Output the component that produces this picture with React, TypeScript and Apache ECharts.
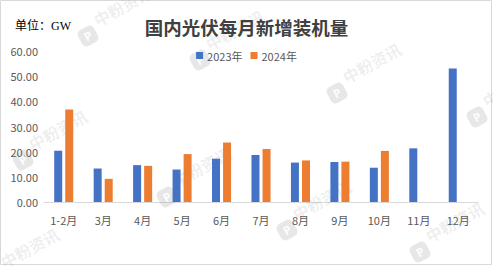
import React, { useEffect, useRef } from "react";
import * as echarts from "echarts";

const categories = ["1-2月", "3月", "4月", "5月", "6月", "7月", "8月", "9月", "10月", "11月", "12月"];
const series2023 = [20.37, 13.3, 14.65, 12.9, 17.21, 18.66, 15.66, 15.89, 13.62, 21.32, 53.0];
const series2024 = [36.72, 9.19, 14.37, 19.04, 23.63, 21.05, 16.52, 16.04, 20.3, null, null];
const seriesNames = ["2023年", "2024年"];
const colors = ["#4472C4", "#ED7D31"];
const watermarkText = "中粉资讯";
const watermarkSpots: [number, number][] = [
  [88, 36],
  [200, 60],
  [23, 160],
  [167, 197],
  [337, 93],
  [477, 117],
  [287, 230],
  [420, 252],
  [-5, 278],
];

const ROT = 0.5;

function renderWatermark(params: any) {
  const [x, y] = watermarkSpots[params.dataIndex];
  return {
    type: "group",
    x,
    y,
    rotation: ROT,
    silent: true,
    children: [
      {
        type: "rect",
        shape: { x: -9, y: -9, width: 18, height: 18, r: 5 },
        style: { fill: "rgba(120,120,120,0.18)" },
      },
      {
        type: "text",
        x: 0,
        y: 0,
        style: {
          text: "P",
          fontSize: 12,
          fontWeight: "bold",
          fontFamily: "'Noto Sans', sans-serif",
          fill: "rgba(255,255,255,0.9)",
          align: "center",
          verticalAlign: "middle",
        },
      },
      {
        type: "text",
        x: 13,
        y: -10,
        style: {
          text: watermarkText,
          fontSize: 16,
          fontWeight: "bold",
          fontFamily: "'Noto Sans CJK SC', sans-serif",
          fill: "rgba(120,120,120,0.13)",
          align: "left",
          verticalAlign: "middle",
        },
      },
    ],
  };
}

export default function App() {
  const ref = useRef<HTMLDivElement>(null);
  useEffect(() => {
    document.body.style.margin = "0";
    const chart = echarts.init(ref.current!, null, { renderer: "svg" });
    const axisFont = "'Noto Sans CJK SC', 'Noto Sans', sans-serif";
    chart.setOption({
      animation: false,
      backgroundColor: "#ffffff",
      title: {
        text: "国内光伏每月新增装机量",
        left: "center",
        top: 15,
        z: 6,
        textStyle: {
          fontFamily: "'Liberation Serif', 'Noto Sans CJK SC', serif",
          fontSize: 18.5,
          fontWeight: "bold",
          color: "#404040",
        },
      },
      graphic: [
        {
          type: "rect",
          shape: { x: 0.5, y: 0.5, width: 491, height: 264 },
          style: { fill: "none", stroke: "#d9d9d9", lineWidth: 1 },
          silent: true,
        },
        {
          type: "text",
          left: 15,
          top: 20,
          z: 20,
          style: {
            text: "单位：GW",
            fontFamily: "'Liberation Serif', 'Noto Sans CJK SC', serif",
            fontSize: 12,
            fill: "#000000",
          },
        },
      ],
      legend: {
        data: seriesNames,
        top: 45,
        left: "center",
        z: 20,
        itemWidth: 7,
        itemHeight: 7,
        itemGap: 8,
        icon: "rect",
        textStyle: { fontFamily: axisFont, fontSize: 11, color: "#595959", padding: [0, 0, 0, -1] },
      },
      grid: { left: 44, right: 15, top: 51, bottom: 64 },
      xAxis: {
        type: "category",
        data: categories,
        axisLine: { lineStyle: { color: "#d9d9d9" } },
        axisTick: { show: false },
        axisLabel: { fontFamily: axisFont, fontSize: 11, color: "#595959", margin: 12, interval: 0 },
      },
      yAxis: {
        type: "value",
        min: 0,
        max: 60,
        interval: 10,
        splitLine: { show: false },
        axisLine: { show: false },
        axisTick: { show: false },
        axisLabel: {
          fontFamily: axisFont,
          fontSize: 11,
          color: "#595959",
          margin: 6,
          formatter: (v: number) => v.toFixed(2),
        },
      },
      series: [
        {
          name: seriesNames[0],
          type: "bar",
          data: series2023,
          barWidth: 8,
          barGap: "38%",
          z: 3,
          itemStyle: { color: colors[0] },
        },
        {
          name: seriesNames[1],
          type: "bar",
          data: series2024,
          barWidth: 8,
          z: 3,
          itemStyle: { color: colors[1] },
        },
        {
          name: "watermark",
          type: "custom",
          coordinateSystem: "none",
          silent: true,
          z: 1,
          data: watermarkSpots.map((_, i) => i),
          renderItem: renderWatermark,
        },
      ],
    });
    return () => chart.dispose();
  }, []);
  return <div ref={ref} style={{ width: 493, height: 266 }} />;
}
